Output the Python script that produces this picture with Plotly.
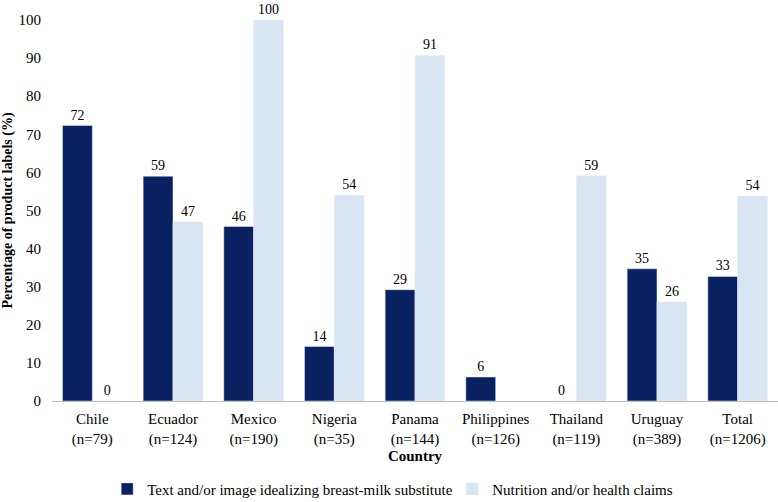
import plotly.graph_objects as go

countries = ["Chile<br>(n=79)", "Ecuador<br>(n=124)", "Mexico<br>(n=190)", "Nigeria<br>(n=35)",
             "Panama<br>(n=144)", "Philippines<br>(n=126)", "Thailand<br>(n=119)",
             "Uruguay<br>(n=389)", "Total<br>(n=1206)"]
idealizing = [72.3, 59, 45.8, 14.3, 29.2, 6.3, 0, 34.7, 32.7]
idealizing_labels = ["72", "59", "46", "14", "29", "6", "0", "35", "33"]
claims = [0, 47, 100, 54, 90.7, None, 59.1, 26, 53.8]
claims_labels = ["0", "47", "100", "54", "91", "", "59", "26", "54"]

font = "'Liberation Serif', 'Times New Roman', Times, serif"

fig = go.Figure()
fig.add_trace(go.Bar(x=countries, y=idealizing, name="Text and/or image idealizing breast-milk substitute",
                     marker_color="#0A2161", text=idealizing_labels, textposition="outside",
                     textfont=dict(size=14, color="black", family=font), cliponaxis=False))
fig.add_trace(go.Bar(x=countries, y=claims, name="Nutrition and/or health claims",
                     marker_color="#DAE5F3", text=claims_labels, textposition="outside",
                     textfont=dict(size=14, color="black", family=font), cliponaxis=False))

fig.update_layout(
    width=778, height=502,
    margin=dict(l=52, r=0, t=20, b=101, autoexpand=False),
    barmode="group", bargap=0.26, bargroupgap=0,
    plot_bgcolor="white", paper_bgcolor="white",
    font=dict(family=font, size=15, color="black"),
    showlegend=True,
    legend=dict(orientation="h", x=0.076, xanchor="left", y=-0.188, yanchor="top",
                font=dict(size=15), itemwidth=30, traceorder="normal",
                entrywidth=300, entrywidthmode="pixels"),
    xaxis=dict(title=dict(text="<b>Country</b>", font=dict(size=15), standoff=0),
               showline=True, linecolor="#BFBFBF", linewidth=1, ticks="",
               ticklabelstandoff=4, tickfont=dict(size=15), automargin=False),
    yaxis=dict(title=dict(text="<b>Percentage of product labels (%)</b>", font=dict(size=14), standoff=5),
               range=[0, 100], dtick=10, showgrid=False, zeroline=False, ticks="",
               ticklabelstandoff=10, tickfont=dict(size=15), automargin=False),
)
fig.write_html("out.html", config={"displayModeBar": False},
               post_script="document.body.style.margin='0';document.body.style.padding='0';")
